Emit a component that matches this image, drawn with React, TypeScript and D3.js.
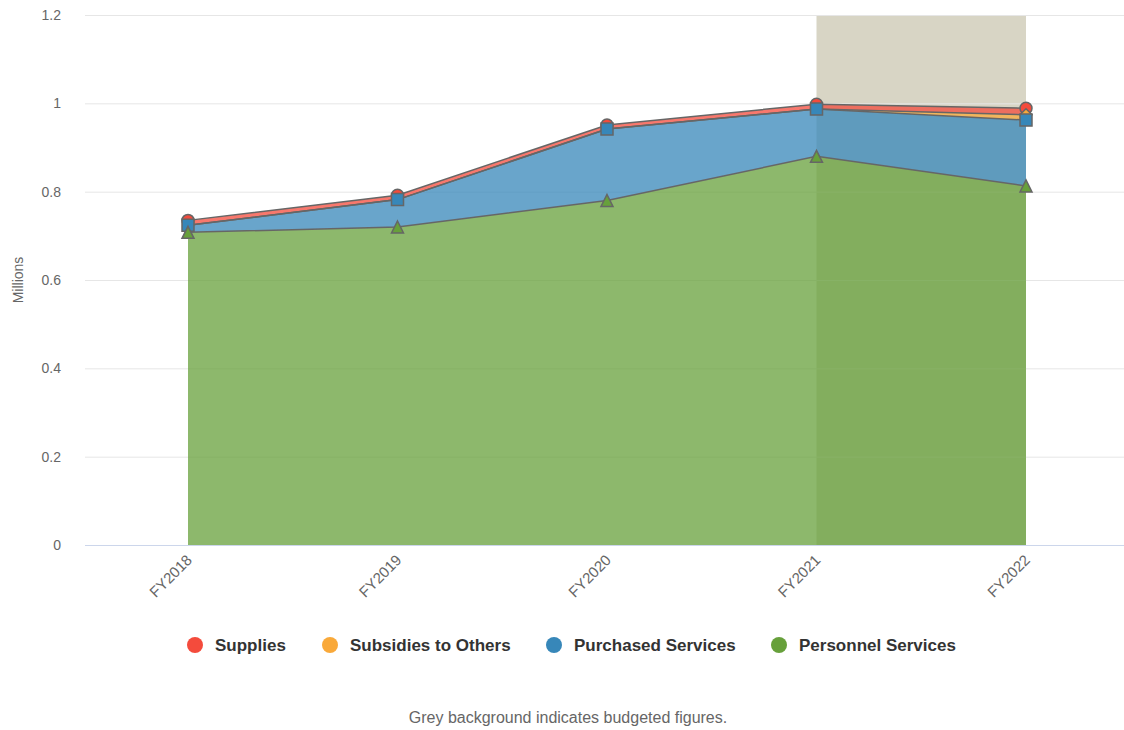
import React from "react";
import * as d3 from "d3";

const categories = ["FY2018", "FY2019", "FY2020", "FY2021", "FY2022"];
const personnel = [0.708, 0.72, 0.78, 0.88, 0.813];
const purchased = [0.016, 0.062, 0.162, 0.107, 0.149];
const subsidies = [0, 0, 0, 0, 0.012];
const supplies = [0.011, 0.01, 0.009, 0.011, 0.015];
const yTicks = [0, 0.2, 0.4, 0.6, 0.8, 1, 1.2];
const budgetFrom = "FY2021";
const budgetTo = "FY2022";

const seriesDefs = [
  { name: "Supplies", values: supplies, color: "#f44b3c", symbol: "circle" },
  { name: "Subsidies to Others", values: subsidies, color: "#f9a93a", symbol: "diamond" },
  { name: "Purchased Services", values: purchased, color: "#3787b9", symbol: "square" },
  { name: "Personnel Services", values: personnel, color: "#67a03b", symbol: "triangle" },
];

const W = 1124;
const H = 730;
const plotLeft = 85;
const plotRight = 1124;
const plotTop = 15;
const plotBottom = 545;
const font = "'Liberation Sans', Arial, Helvetica, sans-serif";

export default function App() {
  const x = d3.scalePoint<string>().domain(categories).range([188, 1026]);
  const y = d3.scaleLinear().domain([0, 1.2]).range([plotBottom, plotTop]);

  // stack order: bottom = personnel, then purchased, subsidies, supplies on top
  const stackOrder = [3, 2, 1, 0];
  const base = categories.map(() => 0);
  const layers: { [k: number]: { y0: number; y1: number }[] } = {};
  stackOrder.forEach((si) => {
    const vals = seriesDefs[si].values;
    layers[si] = categories.map((_, i) => {
      const y0 = base[i];
      const y1 = y0 + vals[i];
      base[i] = y1;
      return { y0, y1 };
    });
  });

  const area = d3
    .area<{ y0: number; y1: number; c: string }>()
    .x((d) => x(d.c)!)
    .y0((d) => y(d.y0))
    .y1((d) => y(d.y1));
  const line = d3
    .line<{ y0: number; y1: number; c: string }>()
    .x((d) => x(d.c)!)
    .y((d) => y(d.y1));

  const symbolPath = (sym: string, cx: number, cy: number) => {
    const r = 6;
    if (sym === "circle") return null;
    if (sym === "square") return `M${cx - r},${cy - r}h${2 * r}v${2 * r}h${-2 * r}Z`;
    if (sym === "diamond") return `M${cx},${cy - r}L${cx + r},${cy}L${cx},${cy + r}L${cx - r},${cy}Z`;
    return `M${cx},${cy - r}L${cx + r},${cy + r}L${cx - r},${cy + r}Z`;
  };

  const legendX = [195, 330, 554, 779];

  return (
    <svg
      width={W}
      height={H}
      style={{ position: "absolute", left: 0, top: 0, fontFamily: font }}
    >
      <rect x={0} y={0} width={W} height={H} fill="#ffffff" />
      {/* budget band */}
      <rect
        x={x(budgetFrom)!}
        y={plotTop}
        width={x(budgetTo)! - x(budgetFrom)!}
        height={plotBottom - plotTop}
        fill="#d8d5c5"
      />
      {/* grid */}
      {yTicks.map((t) => (
        <line
          key={t}
          x1={plotLeft}
          x2={plotRight}
          y1={y(t) + 0.5}
          y2={y(t) + 0.5}
          stroke={t === 0 ? "#ccd6eb" : "#e6e6e6"}
          strokeWidth={1}
        />
      ))}
      {/* areas */}
      {stackOrder.map((si) => {
        const data = layers[si].map((d, i) => ({ ...d, c: categories[i] }));
        return (
          <g key={si}>
            <path d={area(data) || ""} fill={seriesDefs[si].color} fillOpacity={0.75} />
          </g>
        );
      })}
      {stackOrder.map((si) => {
        const data = layers[si].map((d, i) => ({ ...d, c: categories[i] }));
        return (
          <path
            key={"l" + si}
            d={line(data) || ""}
            fill="none"
            stroke="#666666"
            strokeWidth={1.5}
          />
        );
      })}
      {/* markers: series 0 drawn first */}
      {seriesDefs.map((s, si) =>
        layers[si].map((d, i) => {
          if (s.values[i] <= 0) return null;
          const cx = x(categories[i])!;
          const cy = y(d.y1);
          const p = symbolPath(s.symbol, cx, cy);
          return p ? (
            <path key={si + "-" + i} d={p} fill={s.color} stroke="#666666" strokeWidth={1.5} />
          ) : (
            <circle key={si + "-" + i} cx={cx} cy={cy} r={6} fill={s.color} stroke="#666666" strokeWidth={1.5} />
          );
        })
      )}
      {/* y tick labels */}
      {yTicks.map((t) => (
        <text
          key={"t" + t}
          x={61}
          y={y(t) + 5}
          textAnchor="end"
          fontSize={14}
          fill="#666666"
        >
          {d3.format("~g")(t)}
        </text>
      ))}
      <text
        transform={`translate(23,${(plotTop + plotBottom) / 2}) rotate(-90)`}
        textAnchor="middle"
        fontSize={14}
        fill="#666666"
      >
        Millions
      </text>
      {/* x labels */}
      {categories.map((c) => (
        <text
          key={c}
          transform={`translate(${x(c)! + 5},${561}) rotate(-45)`}
          textAnchor="end"
          fontSize={15}
          fill="#666666"
        >
          {c}
        </text>
      ))}
      {/* legend */}
      {seriesDefs.map((s, i) => (
        <g key={s.name}>
          <circle cx={legendX[i]} cy={645} r={8} fill={s.color} />
          <text x={legendX[i] + 20} y={651} fontSize={17} fontWeight="bold" fill="#333333">
            {s.name}
          </text>
        </g>
      ))}
      <text x={568} y={723} textAnchor="middle" fontSize={16} fill="#666666">
        Grey background indicates budgeted figures.
      </text>
    </svg>
  );
}
